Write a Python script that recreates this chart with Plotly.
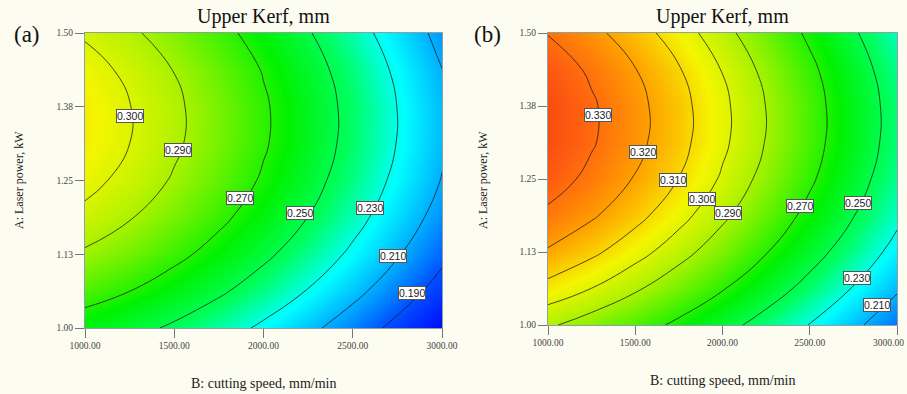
import plotly.graph_objects as go

# ---------------- data ----------------
speed = [1000, 1250, 1500, 1750, 2000, 2250, 2500, 2750, 3000]          # B: cutting speed, mm/min
power = [1.0, 1.0625, 1.125, 1.1875, 1.25, 1.3125, 1.375, 1.4375, 1.5]  # A: laser power, kW

# Upper kerf (mm), panel (a); rows follow `power`, columns follow `speed`
kerf_a = [
    [0.2619, 0.2554, 0.2474, 0.2379, 0.2269, 0.2144, 0.2004, 0.1849, 0.1679],
    [0.2766, 0.2701, 0.2621, 0.2526, 0.2416, 0.2291, 0.2151, 0.1996, 0.1826],
    [0.2884, 0.2819, 0.2739, 0.2644, 0.2534, 0.2409, 0.2269, 0.2114, 0.1944],
    [0.2973, 0.2908, 0.2828, 0.2733, 0.2623, 0.2498, 0.2358, 0.2203, 0.2033],
    [0.3033, 0.2968, 0.2888, 0.2793, 0.2683, 0.2558, 0.2418, 0.2263, 0.2093],
    [0.3065, 0.3000, 0.2920, 0.2825, 0.2715, 0.2590, 0.2450, 0.2295, 0.2125],
    [0.3068, 0.3003, 0.2923, 0.2828, 0.2718, 0.2593, 0.2453, 0.2298, 0.2128],
    [0.3042, 0.2977, 0.2897, 0.2802, 0.2692, 0.2567, 0.2427, 0.2272, 0.2102],
    [0.2987, 0.2922, 0.2842, 0.2747, 0.2637, 0.2512, 0.2372, 0.2217, 0.2047],
]

# Upper kerf (mm), panel (b)
kerf_b = [
    [0.2916, 0.2848, 0.2766, 0.2670, 0.2559, 0.2434, 0.2294, 0.2140, 0.1972],
    [0.3067, 0.2999, 0.2917, 0.2821, 0.2710, 0.2585, 0.2445, 0.2291, 0.2123],
    [0.3189, 0.3121, 0.3039, 0.2943, 0.2832, 0.2707, 0.2567, 0.2413, 0.2245],
    [0.3281, 0.3213, 0.3131, 0.3035, 0.2924, 0.2799, 0.2659, 0.2505, 0.2337],
    [0.3344, 0.3276, 0.3194, 0.3098, 0.2987, 0.2862, 0.2722, 0.2568, 0.2400],
    [0.3377, 0.3309, 0.3227, 0.3131, 0.3020, 0.2895, 0.2755, 0.2601, 0.2433],
    [0.3380, 0.3312, 0.3230, 0.3134, 0.3023, 0.2898, 0.2758, 0.2604, 0.2436],
    [0.3353, 0.3285, 0.3203, 0.3107, 0.2996, 0.2871, 0.2731, 0.2577, 0.2409],
    [0.3296, 0.3228, 0.3146, 0.3050, 0.2939, 0.2814, 0.2674, 0.2520, 0.2352],
]

x_tickvals = [1000, 1500, 2000, 2500, 3000]
x_ticktext = ["1000.00", "1500.00", "2000.00", "2500.00", "3000.00"]
y_tickvals = [1.0, 1.125, 1.25, 1.375, 1.5]
y_ticktext = ["1.00", "1.13", "1.25", "1.38", "1.50"]

labels_a = ["0.300", "0.290", "0.270", "0.250", "0.230", "0.210", "0.190"]
labels_b = ["0.330", "0.320", "0.310", "0.300", "0.290", "0.270", "0.250", "0.230", "0.210"]

# ---------------- styling ----------------
W, H = 907, 394
BG = "#fcfcf1"
SERIF = "Liberation Serif, Times New Roman, serif"
SANS = "Liberation Sans, Arial, sans-serif"
ZMIN, ZMAX = 0.165, 0.345
cscale = [
    [0.000, "#0000ff"], [0.139, "#0050ff"], [0.222, "#0098ff"], [0.345, "#00ffff"],
    [0.450, "#00ff60"], [0.556, "#00f200"], [0.694, "#a8f200"], [0.778, "#f5f500"],
    [0.861, "#ffa000"], [0.933, "#ff6010"], [1.000, "#f03010"],
]
LINE = dict(color="rgba(25,25,25,0.85)", width=0.9, smoothing=1.3)
TICKFONT = dict(family=SERIF, size=9.5, color="#444444")

fig = go.Figure()


def add_panel(z, xa, ya, odd, even):
    fig.add_trace(go.Contour(
        x=speed, y=power, z=z, xaxis=xa, yaxis=ya,
        colorscale=cscale, zmin=ZMIN, zmax=ZMAX, showscale=False,
        autocontour=False,
        contours=dict(coloring="heatmap", showlines=True,
                      start=odd[0], end=odd[1], size=0.02),
        line=LINE, hoverinfo="skip"))
    fig.add_trace(go.Contour(
        x=speed, y=power, z=z, xaxis=xa, yaxis=ya,
        showscale=False, autocontour=False,
        contours=dict(coloring="none", showlines=True,
                      start=even[0], end=even[1], size=0.02),
        line=LINE, hoverinfo="skip"))


add_panel(kerf_a, "x", "y", (0.19, 0.29), (0.30, 0.31))
add_panel(kerf_b, "x2", "y2", (0.21, 0.33), (0.30, 0.32))


def px_x(p):
    return p / W


def px_y(p):
    return 1 - p / H


axis_common = dict(
    showgrid=False, zeroline=False, showline=True, mirror=True, automargin=False,
    linecolor="#8fa0a0", linewidth=1, ticks="outside", ticklen=9,
    tickcolor="#777777", tickwidth=1, tickfont=TICKFONT,
)

# right panel: its last tick label would run past the page edge, so it is
# drawn right-aligned against the edge instead
x2_ticktext = x_ticktext[:-1] + [""]

fig.update_layout(
    width=W, height=H, margin=dict(l=0, r=0, t=0, b=0, autoexpand=False),
    paper_bgcolor=BG, plot_bgcolor=BG, showlegend=False, hovermode=False,
    xaxis=dict(domain=[px_x(85), px_x(442)], range=[1000, 3000], anchor="y",
               tickvals=x_tickvals, ticktext=x_ticktext, **axis_common),
    yaxis=dict(domain=[px_y(328), px_y(33)], range=[1.0, 1.5], anchor="x",
               tickvals=y_tickvals, ticktext=y_ticktext, **axis_common),
    xaxis2=dict(domain=[px_x(548), px_x(897)], range=[1000, 3000], anchor="y2",
                tickvals=x_tickvals, ticktext=x2_ticktext, **axis_common),
    yaxis2=dict(domain=[px_y(325), px_y(33)], range=[1.0, 1.5], anchor="x2",
                tickvals=y_tickvals, ticktext=y_ticktext, **axis_common),
)

ann = []
ann.append(dict(text=x_ticktext[-1], x=px_x(906), y=px_y(343), xref="paper", yref="paper",
                showarrow=False, xanchor="right", yanchor="middle", font=TICKFONT))
# panel texts
for cx, tag, tag_x, xt_y, yt_x in [
    (263, "(a)", 27, 383, 19),
    (722, "(b)", 488, 380, 483),
]:
    ann.append(dict(text="Upper Kerf, mm", x=px_x(cx), y=px_y(17), xref="paper", yref="paper",
                    showarrow=False, xanchor="center", yanchor="middle",
                    font=dict(family=SERIF, size=20, color="#111111")))
    ann.append(dict(text=tag, x=px_x(tag_x), y=px_y(35), xref="paper", yref="paper",
                    showarrow=False, xanchor="center", yanchor="middle",
                    font=dict(family=SERIF, size=23, color="#111111")))
    ann.append(dict(text="B: cutting speed, mm/min", x=px_x(cx), y=px_y(xt_y), xref="paper", yref="paper",
                    showarrow=False, xanchor="center", yanchor="middle",
                    font=dict(family=SERIF, size=14, color="#222222")))
    ann.append(dict(text="A: Laser power, kW", x=px_x(yt_x), y=px_y(180), xref="paper", yref="paper",
                    showarrow=False, xanchor="center", yanchor="middle", textangle=-90,
                    font=dict(family=SERIF, size=12, color="#222222")))

# contour value labels (placed where the reference shows them)
pos_a = [(1252, 1.359), (1521, 1.302), (1868, 1.220), (2204, 1.195),
         (2597, 1.203), (2725, 1.122), (2832, 1.059)]
pos_b = [(1287, 1.360), (1544, 1.296), (1716, 1.248), (1883, 1.216), (2032, 1.192),
         (2444, 1.204), (2777, 1.209), (2771, 1.080), (2885, 1.034)]
for texts, pos, xr, yr in [(labels_a, pos_a, "x", "y"), (labels_b, pos_b, "x2", "y2")]:
    for t, (lx, ly) in zip(texts, pos):
        ann.append(dict(text=t, x=lx, y=ly, xref=xr, yref=yr, showarrow=False,
                        xanchor="center", yanchor="middle",
                        bgcolor="white", bordercolor="#555555", borderwidth=1, borderpad=0,
                        font=dict(family=SANS, size=10.5, color="#222222")))

fig.update_layout(annotations=ann)
fig.write_html("out.html")
